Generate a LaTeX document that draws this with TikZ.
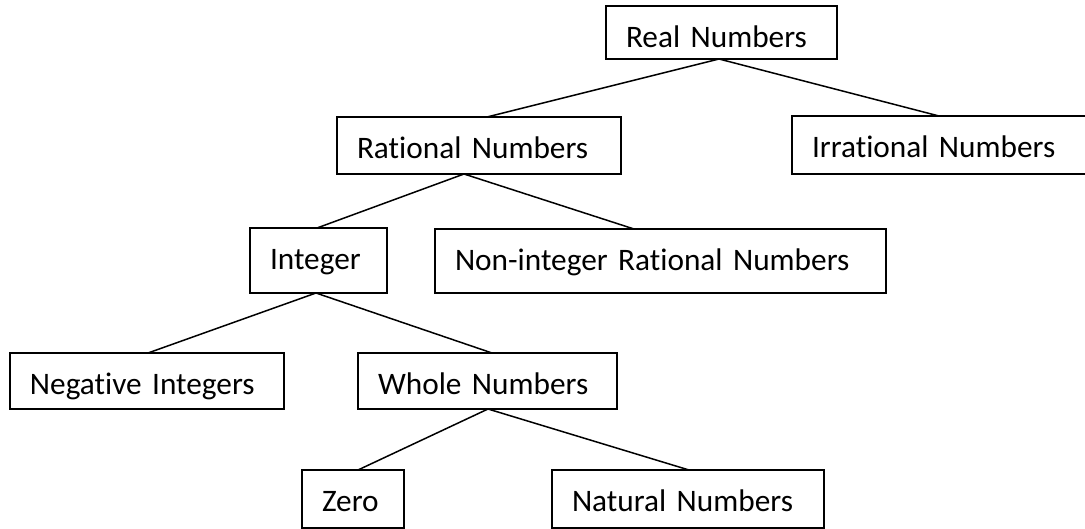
\documentclass[tikz,border=0pt]{standalone}
\usepackage{fontspec}
\setmainfont{Carlito}[Ligatures={NoCommon}]
\begin{document}
\begin{tikzpicture}[x=1pt,y=-1pt,
  box/.style n args={2}{draw=black, line width=1.5pt, anchor=north west,
    inner xsep=20pt, inner ysep=0pt, outer sep=0pt,
    text width=#1-40pt, align=left,
    text height=41.5pt, text depth=#2-41.5pt,
    font=\fontsize{31.3}{36}\selectfont},
  link/.style={draw=black, line width=1.5pt}]
\useasboundingbox (0,0) rectangle (1085,529);
\node[box={231pt}{53pt}] (real)  at (606,6)   {Real Numbers};
\node[box={284pt}{57pt}] (rat)   at (337,117) {Rational Numbers};
\node[box={298pt}{58pt}] (irr)   at (792,116) {Irrational Numbers};
\node[box={137pt}{65pt}] (int)   at (250,228) {Integer};
\node[box={451pt}{64pt}] (non)   at (435,229) {Non-integer Rational Numbers};
\node[box={274pt}{56pt}] (neg)   at (10,353)  {Negative Integers};
\node[box={259pt}{56pt}] (whole) at (358,353) {Whole Numbers};
\node[box={102pt}{58pt}] (zero)  at (302,470) {Zero};
\node[box={272pt}{58pt}] (nat)   at (552,470) {Natural Numbers};
\draw[link] ([xshift=-2.5pt]real.south) -- ([xshift=8pt]rat.north);
\draw[link] ([xshift=-2.5pt]real.south) -- ([xshift=-2pt]irr.north);
\draw[link] ([xshift=-15pt]rat.south) -- ([xshift=-1.5pt]int.north);
\draw[link] ([xshift=-15pt]rat.south) -- ([xshift=-26.5pt]non.north);
\draw[link] ([xshift=-2.5pt]int.south) -- ([xshift=1pt]neg.north);
\draw[link] ([xshift=-2.5pt]int.south) -- ([xshift=4.5pt]whole.north);
\draw[link] ([xshift=0.5pt]whole.south) -- ([xshift=5pt]zero.north);
\draw[link] ([xshift=0.5pt]whole.south) -- ([xshift=1pt]nat.north);
\end{tikzpicture}
\end{document}
